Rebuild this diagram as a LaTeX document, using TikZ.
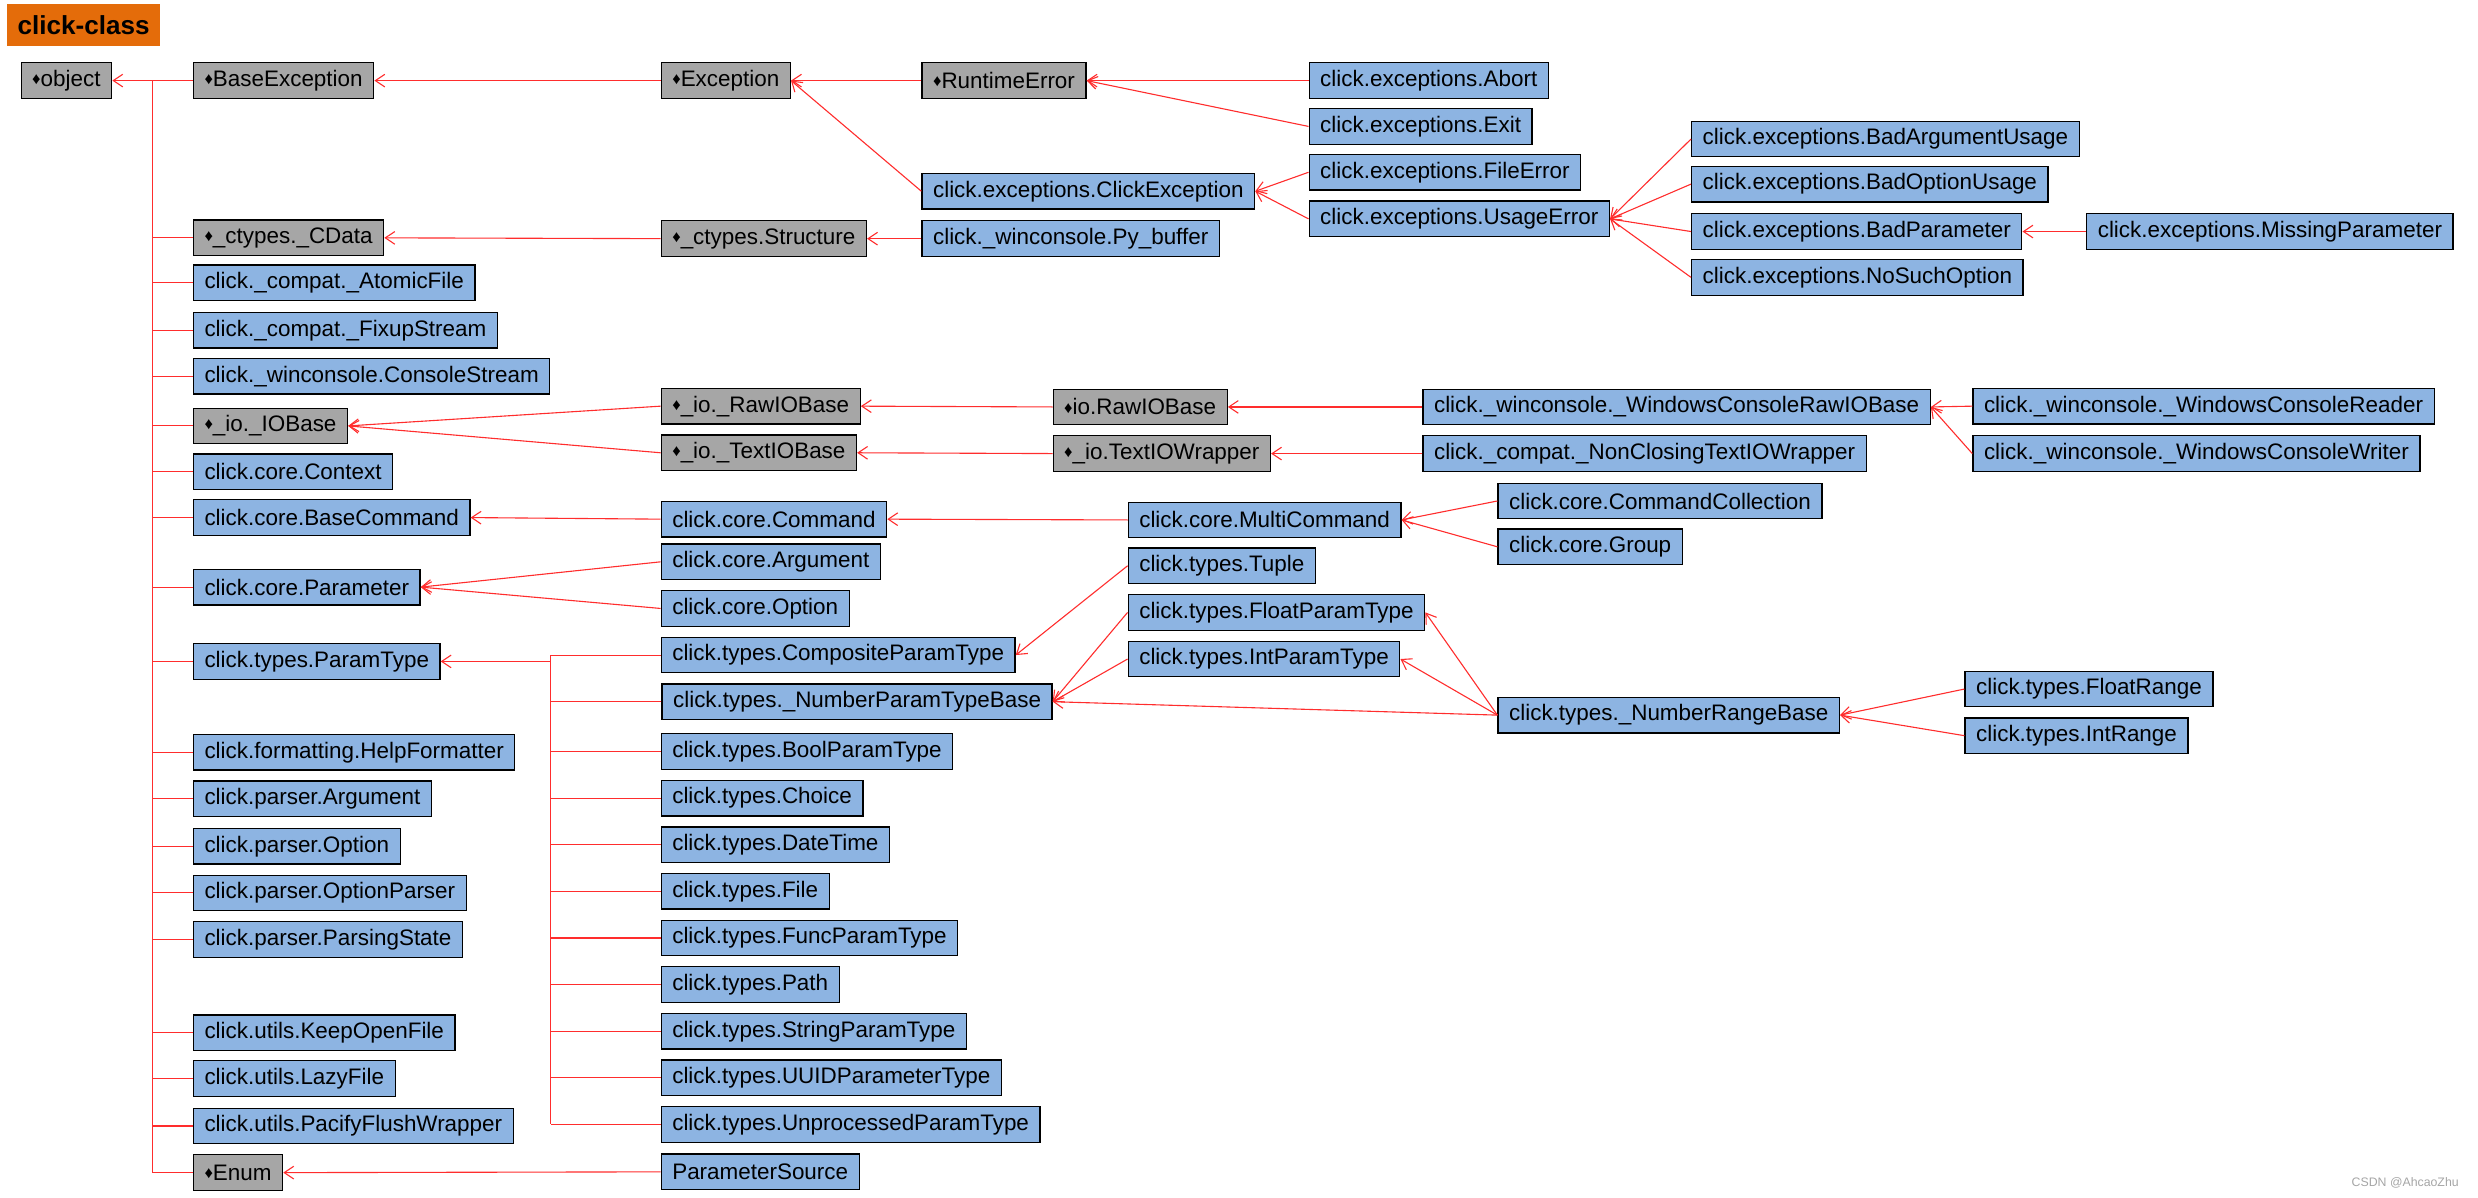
\documentclass[tikz,border=0pt]{standalone}
\usepackage{fontspec}
\setmainfont{Liberation Sans}
\usepackage{tikz}
\usepackage{xcolor}
\definecolor{ClsBlue}{RGB}{141,180,226}
\definecolor{BuiltinGray}{RGB}{166,166,166}
\definecolor{TitleOrange}{RGB}{228,108,10}
\definecolor{LinkRed}{RGB}{255,45,45}
\definecolor{MarkGray}{RGB}{165,165,165}
\usetikzlibrary{calc}
\usetikzlibrary{arrows.meta}

\begin{document}
\begin{tikzpicture}[
      x=1pt, y=-1pt
      , cls/.style={draw, fill=ClsBlue, anchor=west, line width=0.8pt, inner xsep=7pt, inner ysep=0pt, minimum height=22.5pt, font=\fontsize{14.2}{16}\selectfont}
      , builtin/.style={cls, fill=BuiltinGray}
      , title/.style={fill=TitleOrange, anchor=north west, minimum width=96.6pt, minimum height=26.5pt, inner sep=0pt, font=\fontsize{16.5}{18}\selectfont\bfseries}
      , link/.style={draw=LinkRed, line width=0.7pt}
      , inherit/.style={link, ->}
      ]

      \tikzset{>={Straight Barb[length=6pt,width=8pt]}}
      \def\dmd{{\fontsize{10.5}{10}\selectfont\raisebox{1.2pt}{♦}}}

      \useasboundingbox (0,0) rectangle (1568,758);

      \node[title] (title) at (4.4,2.5) {click-class};

      \node[builtin] (object) at (13,51) {\dmd object};

      \node[builtin] (base-exception) at (122,51) {\dmd BaseException};
      \node[builtin] (cdata) at (122,150.5) {\dmd\_ctypes.\_CData};
      \node[cls] (atomic-file) at (122,179) {click.\_compat.\_AtomicFile};
      \node[cls] (fixup-stream) at (122,209) {click.\_compat.\_FixupStream};
      \node[cls] (console-stream) at (122,238) {click.\_winconsole.ConsoleStream};
      \node[builtin] (iobase) at (122,269.5) {\dmd\_io.\_IOBase};
      \node[cls] (context) at (122,298.5) {click.core.Context};
      \node[cls] (base-command) at (122,327.5) {click.core.BaseCommand};
      \node[cls] (parameter) at (122,371.5) {click.core.Parameter};
      \node[cls] (param-type) at (122,418.5) {click.types.ParamType};
      \node[cls] (help-formatter) at (122,476) {click.formatting.HelpFormatter};
      \node[cls] (parser-argument) at (122,505.5) {click.parser.Argument};
      \node[cls] (parser-option) at (122,535.5) {click.parser.Option};
      \node[cls] (option-parser) at (122,565) {click.parser.OptionParser};
      \node[cls] (parsing-state) at (122,594.5) {click.parser.ParsingState};
      \node[cls] (keep-open-file) at (122,653.5) {click.utils.KeepOpenFile};
      \node[cls] (lazy-file) at (122,682.5) {click.utils.LazyFile};
      \node[cls] (pacify-flush-wrapper) at (122,712.5) {click.utils.PacifyFlushWrapper};
      \node[builtin] (enum) at (122,742) {\dmd Enum};

      \node[builtin] (exception) at (418,51) {\dmd Exception};
      \node[builtin] (structure) at (418,151) {\dmd\_ctypes.Structure};
      \node[builtin] (raw-iobase) at (418,257) {\dmd\_io.\_RawIOBase};
      \node[builtin] (text-iobase) at (418,286.5) {\dmd\_io.\_TextIOBase};
      \node[cls] (command) at (418,328.5) {click.core.Command};
      \node[cls] (core-argument) at (418,355.5) {click.core.Argument};
      \node[cls] (core-option) at (418,385) {click.core.Option};
      \node[cls] (composite-param-type) at (418,414.5) {click.types.CompositeParamType};
      \node[cls] (number-param-type-base) at (418.5,444) {click.types.\_NumberParamTypeBase};
      \node[cls] (bool-param-type) at (418,475.5) {click.types.BoolParamType};
      \node[cls] (choice) at (418,505) {click.types.Choice};
      \node[cls] (date-time) at (418,534.5) {click.types.DateTime};
      \node[cls] (file) at (418,564) {click.types.File};
      \node[cls] (func-param-type) at (418,593.5) {click.types.FuncParamType};
      \node[cls] (path) at (418,623) {click.types.Path};
      \node[cls] (string-param-type) at (418,652.5) {click.types.StringParamType};
      \node[cls] (uuid-parameter-type) at (418,682) {click.types.UUIDParameterType};
      \node[cls] (unprocessed-param-type) at (418,711.5) {click.types.UnprocessedParamType};
      \node[cls] (parameter-source) at (418,741.5) {ParameterSource};

      \node[builtin] (runtime-error) at (583,51) {\dmd RuntimeError};
      \node[cls] (click-exception) at (583,121) {click.exceptions.ClickException};
      \node[cls] (py-buffer) at (583,151) {click.\_winconsole.Py\_buffer};

      \node[builtin] (io-raw-iobase) at (666,257.5) {\dmd io.RawIOBase};
      \node[builtin] (text-io-wrapper) at (666,287) {\dmd\_io.TextIOWrapper};

      \node[cls] (multi-command) at (713.5,329) {click.core.MultiCommand};
      \node[cls] (tuple) at (713.5,358) {click.types.Tuple};
      \node[cls] (float-param-type) at (713.5,387.5) {click.types.FloatParamType};
      \node[cls] (int-param-type) at (713.5,417) {click.types.IntParamType};

      \node[cls] (abort) at (828,51) {click.exceptions.Abort};
      \node[cls] (exit) at (828,80) {click.exceptions.Exit};
      \node[cls] (file-error) at (828,109) {click.exceptions.FileError};
      \node[cls] (usage-error) at (828,138.5) {click.exceptions.UsageError};

      \node[cls] (win-raw-iobase) at (900,257.5) {click.\_winconsole.\_WindowsConsoleRawIOBase};
      \node[cls] (non-closing-wrapper) at (900,287) {click.\_compat.\_NonClosingTextIOWrapper};

      \node[cls] (command-collection) at (947.5,317) {click.core.CommandCollection};
      \node[cls] (group) at (947.5,346) {click.core.Group};
      \node[cls] (number-range-base) at (947.5,452.5) {click.types.\_NumberRangeBase};

      \node[cls] (bad-argument-usage) at (1070,88) {click.exceptions.BadArgumentUsage};
      \node[cls] (bad-option-usage) at (1070,116.5) {click.exceptions.BadOptionUsage};
      \node[cls] (bad-parameter) at (1070,146.5) {click.exceptions.BadParameter};
      \node[cls] (no-such-option) at (1070,175.5) {click.exceptions.NoSuchOption};

      \node[cls] (win-console-reader) at (1248,257) {click.\_winconsole.\_WindowsConsoleReader};
      \node[cls] (win-console-writer) at (1248,287) {click.\_winconsole.\_WindowsConsoleWriter};

      \node[cls] (float-range) at (1243,436) {click.types.FloatRange};
      \node[cls] (int-range) at (1243,465.5) {click.types.IntRange};

      \node[cls] (missing-parameter) at (1320,146.5) {click.exceptions.MissingParameter};

      \node[anchor=east, inner sep=0pt, text=MarkGray, font=\fontsize{7.8}{9}\selectfont] (csdn-mark) at (1556,748.5) {CSDN @AhcaoZhu};

      \coordinate (object-bus) at ($ (object.east)!0.5!(base-exception.west) $);
      \draw[inherit] (object-bus |- enum.west) -- (object-bus) -- (object.east);
      \foreach \c in {base-exception, cdata, atomic-file, fixup-stream, console-stream, iobase, context, base-command, parameter, param-type, help-formatter, parser-argument, parser-option, option-parser, parsing-state, keep-open-file, lazy-file, pacify-flush-wrapper, enum}
        \draw[link] (\c.west) -- (object-bus |- \c.west);

      \coordinate (type-bus) at ($ (param-type.east)!0.5!(composite-param-type.west) $);
      \draw[inherit] (type-bus |- param-type.east) -- (param-type.east);
      \draw[link] (type-bus |- composite-param-type.west) -- (type-bus |- unprocessed-param-type.west);
      \foreach \c in {composite-param-type, number-param-type-base, bool-param-type, choice, date-time, file, func-param-type, path, string-param-type, uuid-parameter-type, unprocessed-param-type}
        \draw[link] (\c.west) -- (type-bus |- \c.west);

      \foreach \child/\parent in {exception/base-exception, runtime-error/exception, click-exception/exception, abort/runtime-error, exit/runtime-error, file-error/click-exception, usage-error/click-exception, bad-argument-usage/usage-error, bad-option-usage/usage-error, bad-parameter/usage-error, no-such-option/usage-error, missing-parameter/bad-parameter, structure/cdata, py-buffer/structure, raw-iobase/iobase, text-iobase/iobase, io-raw-iobase/raw-iobase, text-io-wrapper/text-iobase, win-raw-iobase/io-raw-iobase, non-closing-wrapper/text-io-wrapper, win-console-reader/win-raw-iobase, win-console-writer/win-raw-iobase, command/base-command, multi-command/command, command-collection/multi-command, group/multi-command, core-argument/parameter, core-option/parameter, tuple/composite-param-type, float-param-type/number-param-type-base, int-param-type/number-param-type-base, number-range-base/number-param-type-base, number-range-base/float-param-type, number-range-base/int-param-type, float-range/number-range-base, int-range/number-range-base, parameter-source/enum}
        \draw[inherit] (\child.west) -- (\parent.east);
    \end{tikzpicture}
\end{document}
